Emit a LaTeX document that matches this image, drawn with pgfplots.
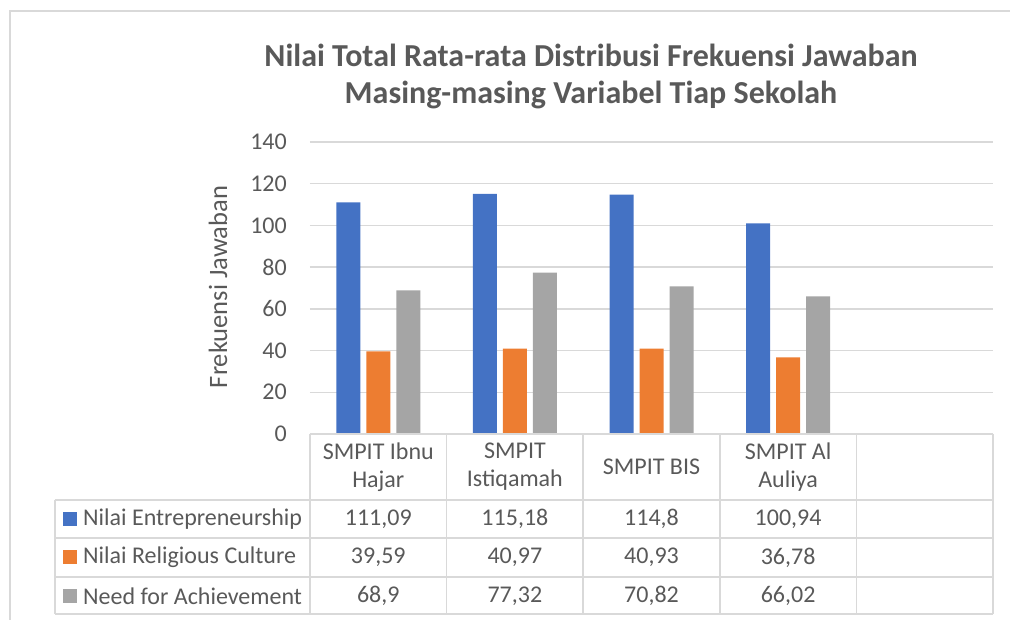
\documentclass[border=0pt]{standalone}
\usepackage{pgfplots}
\pgfplotsset{compat=1.18}
\usepackage{fontspec}
\setmainfont{Carlito}
\definecolor{cblue}{HTML}{4472C4}
\definecolor{corange}{HTML}{ED7D31}
\definecolor{cgray}{HTML}{A5A5A5}
\definecolor{txt}{HTML}{595959}
\definecolor{gridc}{HTML}{D9D9D9}
\newcommand{\tf}{\fontsize{24}{28}\selectfont}
\begin{document}
\begin{tikzpicture}
% axis box: south west corner at (0,0); the rest is placed in reference pixels shifted by (-310,-186)
\begin{axis}[
  anchor=south west, at={(0pt,0pt)},
  scale only axis, width=683pt, height=292pt,
  xmin=-0.5, xmax=4.5, ymin=0, ymax=140,
  ytick={0,20,...,140}, xtick=\empty,
  ymajorgrids, grid style={draw=gridc, line width=1.5pt},
  axis line style={draw=none}, major tick length=0pt,
  ybar=6pt, bar width=24pt, clip=false,
  /pgf/number format/assume math mode=true,
  yticklabel style={font=\tf, text=txt, anchor=east, inner sep=0pt, xshift=-23pt},
]
\addplot[fill=cblue, draw=none] coordinates {(0,111.09) (1,115.18) (2,114.8) (3,100.94)};
\addplot[fill=corange, draw=none] coordinates {(0,39.59) (1,40.97) (2,40.93) (3,36.78)};
\addplot[fill=cgray, draw=none] coordinates {(0,68.9) (1,77.32) (2,70.82) (3,66.02)};
\end{axis}
\begin{scope}[x=1pt, y=1pt, shift={(-310pt,-186pt)}]
\useasboundingbox (0,0) rectangle (1010,620);
% chart frame
\draw[gridc, line width=1.5pt] (10,0) -- (10,609) -- (1010,609);
% title
\node[text=txt, font=\fontsize{32}{38}\selectfont\bfseries] at (591,565) {Nilai Total Rata-rata Distribusi Frekuensi Jawaban};
\node[text=txt, font=\fontsize{32}{38}\selectfont\bfseries] at (591,525) {Masing-masing Variabel Tiap Sekolah};
\node[text=txt, font=\fontsize{26.5}{30}\selectfont, rotate=90] at (218,333) {Frekuensi Jawaban};
% data table
\begin{scope}[gridc, line width=1.5pt]
\draw (310,186) -- (993,186);
\foreach \y in {120,82,43,6} \draw (55,\y) -- (993,\y);
\draw (55,120) -- (55,6);
\foreach \x in {310,446.6,583.2,719.8,856.4,993} \draw (\x,186) -- (\x,6);
\end{scope}
\begin{scope}[text=txt, font=\tf]
\node[align=center] at (378.3,153) {SMPIT Ibnu\\Hajar};
\node[align=center] at (514.9,153) {SMPIT\\Istiqamah};
\node at (651.5,153) {SMPIT BIS};
\node[align=center] at (788.1,153) {SMPIT Al\\Auliya};
\fill[cblue] (63,94) rectangle (77,108);
\fill[corange] (63,55.5) rectangle (77,69.5);
\fill[cgray] (63,17) rectangle (77,31);
\node[anchor=west, inner sep=0pt] at (83,101) {Nilai Entrepreneurship};
\node[anchor=west, inner sep=0pt] at (83,62.5) {Nilai Religious Culture};
\node[anchor=west, inner sep=0pt] at (83,24) {Need for Achievement};
\node at (378.3,101) {111,09};
\node at (514.9,101) {115,18};
\node at (651.5,101) {114,8};
\node at (788.1,101) {100,94};
\node at (378.3,62.5) {39,59};
\node at (514.9,62.5) {40,97};
\node at (651.5,62.5) {40,93};
\node at (788.1,62.5) {36,78};
\node at (378.3,24) {68,9};
\node at (514.9,24) {77,32};
\node at (651.5,24) {70,82};
\node at (788.1,24) {66,02};
\end{scope}
\end{scope}
\end{tikzpicture}
\end{document}
